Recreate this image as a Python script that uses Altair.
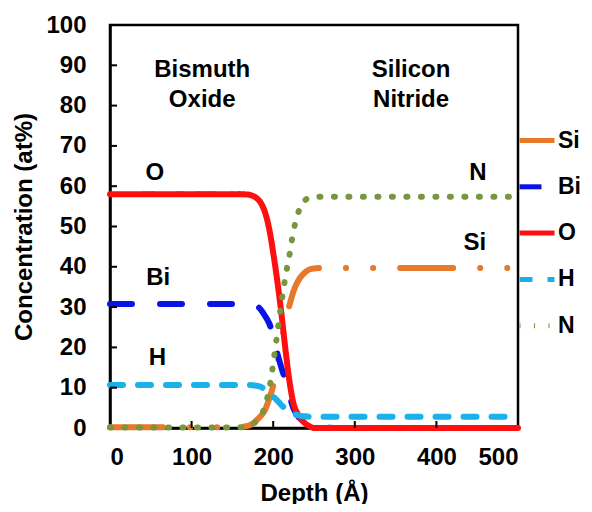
import altair as alt
import pandas as pd

series = ["Si", "Bi", "O", "H", "N"]
colors = ["#E8782A", "#0A14E6", "#FF1010", "#1AB0EA", "#78963E"]
dashes = [[53, 27, 0.1, 27, 0.1, 27], [22, 28], [1, 0], [13, 15], [1, 13.5]]

depth = [0, 40, 80, 120, 160, 170, 175, 180, 185, 190, 195, 200, 205, 210, 215,
         220, 225, 230, 235, 240, 245, 250, 260, 280, 320, 360, 400, 440, 480, 500]
si = [0.2, 0.2, 0.2, 0.2, 0.3, 0.6, 1.1, 2, 3, 4.5, 7.2, 10.5, 15.5, 21, 26.5,
      30.5, 34, 36.3, 37.8, 38.8, 39.4, 39.6, 39.7, 39.7, 39.7, 39.7, 39.7, 39.7, 39.7, 39.7]
bi = [30.8, 30.8, 30.8, 30.8, 30.8, 30.7, 30.6, 30.3, 29.3, 27.8, 26, 23, 18.6, 15, 11.8,
      8, 4.8, 3, 2, 1.3, 0.8, 0.5, 0.2, 0, 0, 0, 0, 0, 0, 0]
o = [58, 58, 58, 58, 58, 57.9, 57.6, 57, 55.8, 53.5, 49.5, 43.5, 36.5, 28.5, 19.5,
     11.5, 6, 3.5, 2, 1, 0.4, 0, 0, 0, 0, 0, 0, 0, 0, 0]
h = [10.7, 10.7, 10.7, 10.7, 10.7, 10.7, 10.6, 10.5, 10.2, 9.5, 8.7, 7.8, 6.8, 5.7, 4.8,
     4, 3.5, 3.2, 3, 2.9, 2.8, 2.8, 2.8, 2.8, 2.8, 2.8, 2.8, 2.8, 2.8, 2.8]
n = [0.1, 0.1, 0.1, 0.1, 0.2, 0.5, 1, 1.8, 3, 5.5, 9.5, 16, 23.5, 31, 37.5,
     43, 49, 53, 55.5, 56.7, 57.2, 57.4, 57.4, 57.4, 57.4, 57.4, 57.4, 57.4, 57.4, 57.4]

ann_text = ["Bismuth", "Oxide", "Silicon", "Nitride", "O", "Bi", "H", "N", "Si"]
ann_x = [113, 113, 369, 369, 55, 59, 58, 451, 447]
ann_y = [88.8, 81.4, 88.8, 81.4, 63.3, 37.2, 17.4, 63.3, 45.9]

x_ticks = [0, 100, 200, 300, 400, 500]
y_ticks = [0, 10, 20, 30, 40, 50, 60, 70, 80, 90, 100]
x_inner = [100, 200, 300, 400]
y_inner = [10, 20, 30, 40, 50, 60, 70, 80, 90]

FONT = "Liberation Sans"
W, H = 408, 403

rows = []
for name, vals in zip(series, [si, bi, o, h, n]):
    for d, v in zip(depth, vals):
        rows.append({"series": name, "depth": d, "value": v})
df = pd.DataFrame(rows)

xscale = alt.Scale(domain=[0, 500], nice=False)
yscale = alt.Scale(domain=[0, 100], nice=False)

lines = alt.Chart(df).mark_line(strokeWidth=6, strokeCap="round", interpolate="monotone").encode(
    x=alt.X("depth:Q", scale=xscale,
            axis=alt.Axis(values=x_ticks, title="Depth (Å)", ticks=False, grid=False,
                          labelFontSize=24, labelFontWeight="bold", labelFont=FONT,
                          labelPadding=17, titleFontSize=24, titleFontWeight="bold",
                          titleFont=FONT, titlePadding=12, labelColor="black", titleColor="black")),
    y=alt.Y("value:Q", scale=yscale,
            axis=alt.Axis(values=y_ticks, title="Concentration (at%)", ticks=False, grid=False,
                          labelFontSize=24, labelFontWeight="bold", labelFont=FONT,
                          labelPadding=24, titleFontSize=24, titleFontWeight="bold",
                          titleFont=FONT, titlePadding=9, labelColor="black", titleColor="black")),
    color=alt.Color("series:N", scale=alt.Scale(domain=series, range=colors),
                    sort=series,
                    legend=alt.Legend(title=None, orient="none", legendX=407, legendY=95.5,
                                      symbolType="stroke", symbolSize=1225, symbolStrokeWidth=5,
                                      labelFontSize=23, labelFontWeight="bold", labelFont=FONT,
                                      labelColor="black", rowPadding=14.3, labelOffset=1)),
    strokeDash=alt.StrokeDash("series:N", scale=alt.Scale(domain=series, range=dashes),
                              sort=series, legend=alt.Legend(title=None)),
)

ann_df = pd.DataFrame({"t": ann_text, "x": ann_x, "y": ann_y})
ann = alt.Chart(ann_df).mark_text(fontSize=24, fontWeight="bold", font=FONT, color="black",
                                  align="center", baseline="middle").encode(
    x=alt.X("x:Q", scale=xscale), y=alt.Y("y:Q", scale=yscale), text="t:N")

ytk = alt.Chart(pd.DataFrame({"v": y_inner})).mark_rule(color="black", strokeWidth=2).encode(
    y=alt.Y("v:Q", scale=yscale), x=alt.value(0), x2=alt.value(7))
xtk = alt.Chart(pd.DataFrame({"v": x_inner})).mark_rule(color="black", strokeWidth=2).encode(
    x=alt.X("v:Q", scale=xscale), y=alt.value(H - 7), y2=alt.value(H))

chart = alt.layer(lines, ann, ytk, xtk).properties(
    width=W, height=H,
    padding={"left": 102, "top": 17, "right": 66, "bottom": 76},
    autosize=alt.AutoSizeParams(type="none"),
).configure_view(stroke="black", strokeWidth=2.5).configure_axis(
    domainColor="black", domainWidth=2.5
)

chart.save("out.html", embed_options={"renderer": "svg", "actions": False})
